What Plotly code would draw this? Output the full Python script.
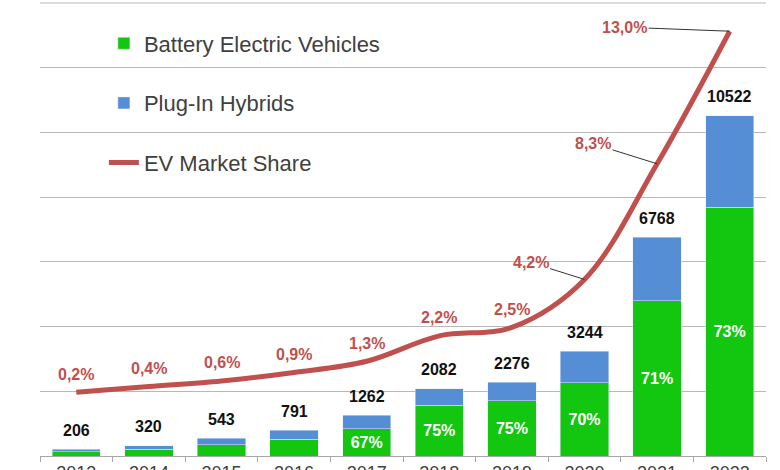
import plotly.graph_objects as go

years = ["2013", "2014", "2015", "2016", "2017", "2018", "2019", "2020", "2021", "2022"]
bev = [124, 208, 342, 522, 846, 1562, 1707, 2271, 4805, 7681]
phev = [82, 112, 201, 269, 416, 520, 569, 973, 1963, 2841]
totals = [206, 320, 543, 791, 1262, 2082, 2276, 3244, 6768, 10522]
bev_share_labels = ["", "", "", "", "67%", "75%", "75%", "70%", "71%", "73%"]
market_share = [0.2, 0.4, 0.6, 0.9, 1.3, 2.2, 2.5, 4.2, 8.3, 13.0]
market_share_labels = ["0,2%", "0,4%", "0,6%", "0,9%", "1,3%", "2,2%", "2,5%", "4,2%", "8,3%", "13,0%"]

GREEN = "#13c60f"
BLUE = "#558ed5"
RED = "#c0504d"
GRID = "#b8b8b8"
FONT = "Liberation Sans, Arial, sans-serif"

fig = go.Figure()
fig.add_trace(go.Bar(
    x=years, y=bev, name="Battery Electric Vehicles", marker_color=GREEN,
    text=bev_share_labels, textposition="inside", insidetextanchor="middle",
    textfont=dict(color="white", size=16, family=FONT, weight="bold"),
    legendgroup="a",
))
fig.add_trace(go.Bar(
    x=years, y=phev, name="Plug-In Hybrids", marker_color=BLUE,
    legendgroup="b",
))
fig.add_trace(go.Scatter(
    x=years, y=market_share, name="EV Market Share", yaxis="y2",
    mode="lines", line=dict(color=RED, width=5, shape="spline", smoothing=1.0),
    legendgroup="c",
))

annotations = []
for i, tot in enumerate(totals):
    annotations.append(dict(
        x=i, y=tot, xref="x", yref="y", text=str(tot), showarrow=False,
        yanchor="middle", yshift=19,
        font=dict(size=16, color="#111111", family=FONT, weight="bold"),
    ))

arrow_offsets = {7: (-54, -17), 8: (-64, -20), 9: (-105, -4)}
for i, (ms, lab) in enumerate(zip(market_share, market_share_labels)):
    if i in arrow_offsets:
        ax, ay = arrow_offsets[i]
        annotations.append(dict(
            x=i, y=ms, xref="x", yref="y2", text=lab, showarrow=True,
            arrowhead=0, arrowwidth=1, arrowcolor="#333333", ax=ax, ay=ay,
            standoff=0,
            font=dict(size=16, color=RED, family=FONT, weight="bold"),
        ))
    else:
        annotations.append(dict(
            x=i, y=ms, xref="x", yref="y2", text=lab, showarrow=False,
            yanchor="middle", yshift=18,
            font=dict(size=16, color=RED, family=FONT, weight="bold"),
        ))

fig.update_layout(
    width=780, height=470,
    margin=dict(l=40, r=14, t=3, b=14, autoexpand=False),
    paper_bgcolor="white", plot_bgcolor="white",
    barmode="stack", bargap=0.335,
    font=dict(family=FONT, color="#404040"),
    showlegend=True,
    legend=dict(
        x=0.088, y=0.957, xanchor="left", yanchor="top",
        font=dict(size=22, color="#404040", family=FONT),
        traceorder="grouped", tracegroupgap=28,
        bgcolor="rgba(0,0,0,0)",
    ),
    xaxis=dict(
        type="category", range=[-0.5, 9.5], autorange=False, automargin=False,
        showline=True, linecolor="#a6a6a6", linewidth=1,
        ticks="outside", tickson="boundaries", ticklen=5, tickcolor="#a6a6a6",
        showgrid=False, tickfont=dict(size=18, color="#404040"),
    ),
    yaxis=dict(
        range=[0, 14000], autorange=False, dtick=2000, showgrid=True,
        gridcolor=GRID, gridwidth=1, showticklabels=False,
        zeroline=False, showline=False, automargin=False,
    ),
    yaxis2=dict(
        range=[-2.06, 14], autorange=False, overlaying="y", side="right",
        showgrid=False, showticklabels=False, zeroline=False, showline=False,
        automargin=False,
    ),
    shapes=[dict(type="line", xref="paper", x0=0, x1=1, yref="paper", y0=1, y1=1,
                 line=dict(color=GRID, width=1), layer="below")],
    annotations=annotations,
)

fig.write_html("out.html")
